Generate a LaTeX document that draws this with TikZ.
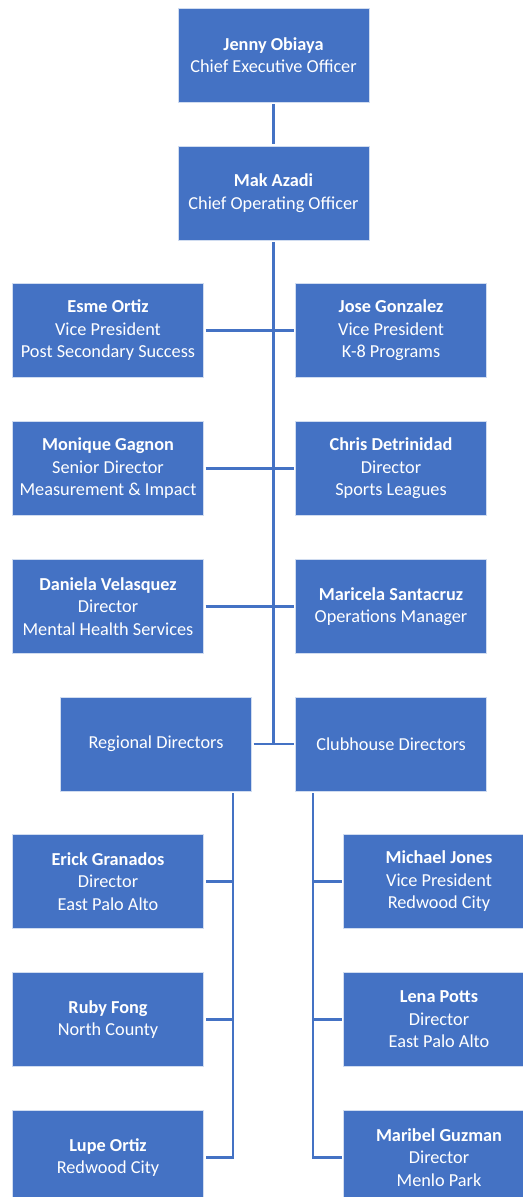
\documentclass[tikz,border=0pt]{standalone}
\usepackage{fontspec}
\setmainfont{Carlito}
\usepackage{tikz}
\definecolor{boxblue}{HTML}{4472C4}

\begin{document}
\begin{tikzpicture}[x=0.75pt,y=-0.75pt,
    every node/.style={minimum width=143.25pt, minimum height=70.5pt, inner sep=0pt, outer sep=1.5pt,
      fill=boxblue, draw=white!75!boxblue, line width=0.4pt, text=white, align=center,
      font=\fontsize{13.7}{16.9}\selectfont},
    conn/.style={draw=boxblue, line width=1.6pt}]
      \useasboundingbox (0,0) rectangle (523,1197);
      \clip (0,0) rectangle (523,1197);
      \node (jenny) at (273.5,55) {\textbf{Jenny Obiaya}\\Chief Executive Officer};
      \node (mak) at (273.5,193) {\textbf{Mak Azadi}\\Chief Operating Officer};
      \node (esme) at (108,330.5) {\textbf{Esme Ortiz}\\Vice President\\Post Secondary Success};
      \node (jose) at (391,330.5) {\textbf{Jose Gonzalez}\\Vice President\\K-8 Programs};
      \node (monique) at (108,468.5) {\textbf{Monique Gagnon}\\Senior Director\\Measurement \& Impact};
      \node (chris) at (391,468.5) {\textbf{Chris Detrinidad}\\Director\\Sports Leagues};
      \node (daniela) at (108,606.5) {\textbf{Daniela Velasquez}\\Director\\Mental Health Services};
      \node (maricela) at (391,606.5) {\textbf{Maricela Santacruz}\\Operations Manager};
      \node (regional) at (156,744) {Regional Directors};
      \node (clubhouse) at (391,744) {Clubhouse Directors};
      \node (erick) at (108,881.5) {\textbf{Erick Granados}\\Director\\East Palo Alto};
      \node (ruby) at (108,1019.5) {\textbf{Ruby Fong}\\North County};
      \node (lupe) at (108,1157.5) {\textbf{Lupe Ortiz}\\Redwood City};
      \node (michael) at (439,881.5) {\textbf{Michael Jones}\\Vice President\\Redwood City};
      \node (lena) at (439,1019.5) {\textbf{Lena Potts}\\Director\\East Palo Alto};
      \node (maribel) at (439,1157.5) {\textbf{Maribel Guzman}\\Director\\Menlo Park};
      \coordinate (lspine) at (233,0);
      \coordinate (rspine) at (313,0);
      \draw[conn] (jenny) -- (mak);
      \draw[conn] (mak.south) -- (mak.south |- regional.east);
      \foreach \a/\b in {esme/jose, monique/chris, daniela/maricela, regional/clubhouse}
        \draw[conn] (\a.east) -- (\b.west);
      \draw[conn] (regional.south -| lspine) |- (lupe.east);
      \draw[conn] (clubhouse.south -| rspine) |- (maribel.west);
      \foreach \n in {erick, ruby}
        \draw[conn] (lspine |- \n.east) -- (\n.east);
      \foreach \n in {michael, lena}
        \draw[conn] (rspine |- \n.west) -- (\n.west);
    \end{tikzpicture}
\end{document}
